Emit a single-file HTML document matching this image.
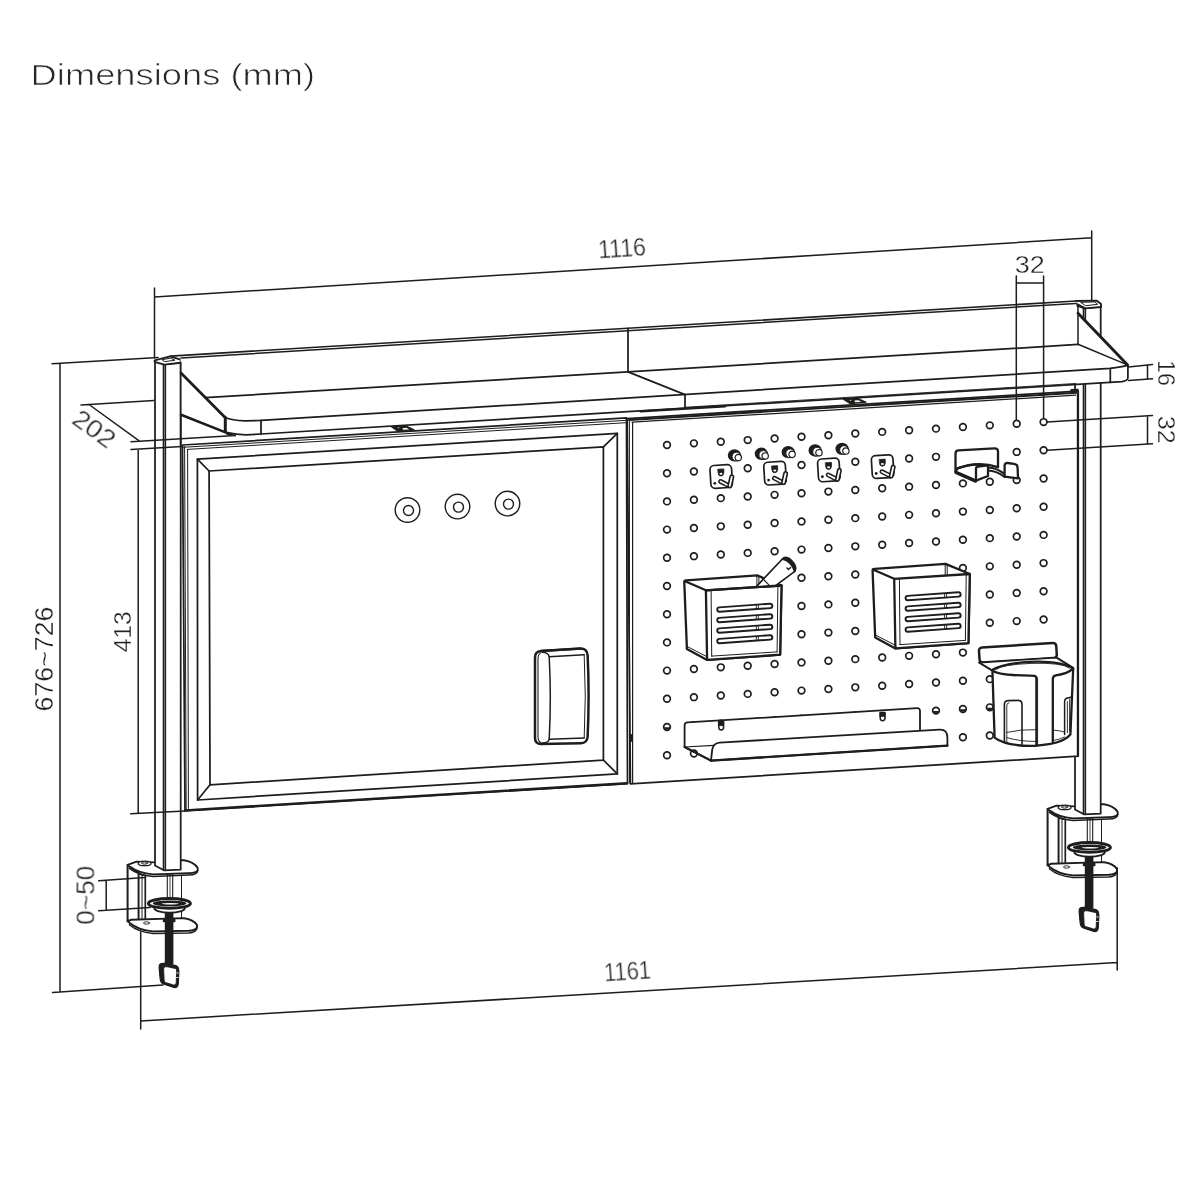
<!DOCTYPE html>
<html lang="en">
<head>
<meta charset="utf-8">
<title>Dimensions (mm)</title>
<style>
html,body{margin:0;padding:0;background:#fff;}
body{width:1200px;height:1200px;overflow:hidden;font-family:"Liberation Sans",sans-serif;}
svg{display:block;position:absolute;left:0;top:0;}
svg text{font-family:"Liberation Sans",sans-serif;}
</style>
</head>
<body>
<svg width="1200" height="1200" viewBox="0 0 1200 1200" stroke-linecap="round" stroke-linejoin="round">
<rect x="0" y="0" width="1200" height="1200" fill="#fff"/>
<!-- title -->
<!-- left post -->
<defs><g id="clamp">
<polygon points="127.60,865.00 138.70,873.00 138.70,923.00 127.60,921.20" fill="#fff" stroke="#1d1d1b" stroke-width="2.0" />
<polygon points="138.70,874.00 145.30,875.50 145.30,924.00 138.70,923.00" fill="#fff" stroke="#1d1d1b" stroke-width="1.7" />
<line x1="142.00" y1="875.00" x2="142.00" y2="923.50" stroke="#1d1d1b" stroke-width="1.0" />
<rect x="167.3" y="874" width="5.4" height="26" fill="#fff" stroke="#1d1d1b" stroke-width="1.1"/>
<line x1="170.00" y1="875.00" x2="170.00" y2="899.00" stroke="#1d1d1b" stroke-width="0.8" />
<line x1="181.50" y1="875.00" x2="181.50" y2="919.50" stroke="#1d1d1b" stroke-width="1.0" />
<path d="M127.6 921 L131 919.8 L175 918.4 L184 918.2 Q193.4 919.4 197 925 L197 927 Q196.4 930.4 188.7 930.8 L153 931.4 Q138.5 930.2 129.8 923 Z" fill="#fff" stroke="#1d1d1b" stroke-width="1.9" />
<path d="M129.4 924.8 Q138 932.2 153 933.4 L188.7 932.9 Q196.4 932.5 197 927.8" fill="none" stroke="#1d1d1b" stroke-width="1.5" />
<ellipse cx="146.5" cy="923" rx="3" ry="1.2" fill="#fff" stroke="#1d1d1b" stroke-width="0.9"/>
<rect x="164.8" y="910" width="8.6" height="54" fill="#1d1d1b" stroke="none"/>
<rect x="162.8" y="919" width="12.6" height="3.2" fill="#1d1d1b" stroke="none"/>
<ellipse cx="169.6" cy="908.2" rx="15.2" ry="4.4" fill="#fff" stroke="#1d1d1b" stroke-width="1.9"/>
<ellipse cx="169.4" cy="903.4" rx="21.0" ry="4.9" fill="#fff" stroke="#1d1d1b" stroke-width="3.0"/>
<ellipse cx="169.6" cy="903.4" rx="16.8" ry="2.9" fill="#1d1d1b" stroke="none"/>
<ellipse cx="170.2" cy="903.8" rx="8.6" ry="0.8" fill="#fff" stroke="none"/>
<path d="M127.6 864.8 L136.5 861.7 L155 862.4 L181 860.3 L184 860.2 Q194 861.8 197.7 868 L197.7 870.2 Q197 872.8 188.7 873.1 L153 874.4 Q138.5 873.2 129.8 866.6 Z" fill="#fff" stroke="#1d1d1b" stroke-width="1.9" />
<path d="M129.4 868.4 Q138 875.2 153 876.4 L188.7 875.1 Q197 874.8 197.7 870.8" fill="none" stroke="#1d1d1b" stroke-width="1.5" />
<ellipse cx="144.6" cy="863.4" rx="6.4" ry="2.3" fill="#fff" stroke="#1d1d1b" stroke-width="1.3"/>
<ellipse cx="144.6" cy="863.0" rx="3.2" ry="1.1" fill="#fff" stroke="#1d1d1b" stroke-width="1.0"/>
<path d="M161.2 963.6 Q159 964 159.2 968 L160.2 979 Q160.6 983 164 984.2 L174 987.4 Q177.4 988 178.2 984 L178.8 972 Q179 966.6 175.6 965.6 L166 963.2 Z" fill="#1d1d1b" stroke="#1d1d1b" stroke-width="1.3" />
<path d="M166.4 966.6 L175.2 968.4 Q176.8 969 176.7 971.4 L176.2 983 Q175.9 985.6 173.6 985 L165.6 982.6 Q164.2 982 164.1 980 L163.6 969 Q163.6 966.2 166.4 966.6 Z" fill="#fff" stroke="#1d1d1b" stroke-width="0.9" />
<line x1="176.80" y1="973.00" x2="178.40" y2="973.00" stroke="#fff" stroke-width="0.8" />
<line x1="176.60" y1="977.50" x2="178.30" y2="977.50" stroke="#fff" stroke-width="0.8" />
</g></defs>
<use href="#clamp"/>
<use href="#clamp" transform="translate(920 -56)"/>
<g transform="translate(0 0)">
<polygon points="155.00,361.00 164.00,364.30 180.70,362.60 180.70,869.60 164.30,870.40 155.00,865.40" fill="#fff" stroke="#1d1d1b" stroke-width="1.75" />
<line x1="165.30" y1="364.20" x2="165.30" y2="870.20" stroke="#1d1d1b" stroke-width="1.7" />
<line x1="163.40" y1="363.60" x2="163.40" y2="869.80" stroke="#1d1d1b" stroke-width="1.4" />
<polygon points="154.70,360.40 170.00,356.40 180.70,359.60 180.70,362.80 164.20,364.60 154.70,361.80" fill="#fff" stroke="#1d1d1b" stroke-width="1.9" />
<polygon points="162.40,359.60 170.60,358.20 175.00,360.20 165.20,361.60" fill="#fff" stroke="#1d1d1b" stroke-width="1.0" />
</g>
<!-- right post -->
<g transform="translate(920 -56)">
<polygon points="155.00,361.00 164.00,364.30 180.70,362.60 180.70,869.60 164.30,870.40 155.00,865.40" fill="#fff" stroke="#1d1d1b" stroke-width="1.75" />
<line x1="165.30" y1="364.20" x2="165.30" y2="870.20" stroke="#1d1d1b" stroke-width="1.7" />
<line x1="163.40" y1="363.60" x2="163.40" y2="869.80" stroke="#1d1d1b" stroke-width="1.4" />
<polygon points="155.60,357.00 176.50,356.60 181.00,360.00 181.00,363.00 165.30,364.40 155.60,359.40" fill="#fff" stroke="#1d1d1b" stroke-width="1.9" />
<polygon points="161.00,358.30 175.00,357.90 177.60,360.30 166.00,361.70" fill="#fff" stroke="#1d1d1b" stroke-width="1.0" />
</g>
<!-- whiteboard -->
<polygon points="182.50,445.00 626.50,417.97 627.50,783.60 185.00,811.00" fill="#fff" stroke="#1d1d1b" stroke-width="1.75" />
<line x1="183.30" y1="447.30" x2="626.50" y2="420.32" stroke="#1d1d1b" stroke-width="1.0" />
<line x1="187.30" y1="449.40" x2="626.50" y2="422.67" stroke="#1d1d1b" stroke-width="1.0" />
<line x1="184.60" y1="446.50" x2="186.20" y2="809.50" stroke="#1d1d1b" stroke-width="1.0" />
<line x1="187.60" y1="449.40" x2="188.40" y2="808.50" stroke="#1d1d1b" stroke-width="1.0" />
<line x1="185.20" y1="810.40" x2="627.20" y2="783.20" stroke="#1d1d1b" stroke-width="2.4" />
<polygon points="197.40,459.10 617.30,433.40 617.30,773.90 197.60,800.00" fill="none" stroke="#1d1d1b" stroke-width="1.75" />
<polygon points="209.10,471.00 603.40,446.90 603.40,760.10 210.00,784.80" fill="none" stroke="#1d1d1b" stroke-width="1.75" />
<line x1="197.40" y1="459.10" x2="209.10" y2="471.00" stroke="#1d1d1b" stroke-width="1.75" />
<line x1="617.30" y1="433.40" x2="603.40" y2="446.90" stroke="#1d1d1b" stroke-width="1.75" />
<line x1="617.30" y1="773.90" x2="603.40" y2="760.10" stroke="#1d1d1b" stroke-width="1.75" />
<line x1="197.60" y1="800.00" x2="210.00" y2="784.80" stroke="#1d1d1b" stroke-width="1.75" />
<path d="M391.4 426.8 L405 425.6 L414 429.8 L398 431.2 Z" fill="#1d1d1b" stroke="#1d1d1b" stroke-width="1.2" />
<path d="M397.4 427.6 L399.6 427.4 L398.6 428.6 Z M402.4 428.2 L406.4 427.8 L409.4 429.4 L403 429.8 Z" fill="#fff" stroke="none" stroke-width="0" />
<circle cx="407.5" cy="510" r="12.3" fill="#fff" stroke="#1d1d1b" stroke-width="1.4"/>
<circle cx="408.5" cy="510.5" r="5" fill="#fff" stroke="#1d1d1b" stroke-width="1.4"/>
<circle cx="457.5" cy="506.6" r="12.3" fill="#fff" stroke="#1d1d1b" stroke-width="1.4"/>
<circle cx="458.5" cy="507.1" r="5" fill="#fff" stroke="#1d1d1b" stroke-width="1.4"/>
<circle cx="507.5" cy="503.6" r="12.3" fill="#fff" stroke="#1d1d1b" stroke-width="1.4"/>
<circle cx="508.5" cy="504.1" r="5" fill="#fff" stroke="#1d1d1b" stroke-width="1.4"/>
<path d="M535 657.4 Q535 651.4 541 651 L580 648.6 Q587 648.4 587.6 655 Q589.6 696 587.6 737 Q587 743 581 743.2 L541 744 Q535 743.8 535 738 Z" fill="#fff" stroke="#1d1d1b" stroke-width="2.5" />
<path d="M541 652.6 Q538 654.4 538 658.6 V737 Q538 741.2 541 742.6" fill="none" stroke="#1d1d1b" stroke-width="1.1" />
<path d="M542.4 652.2 Q548.4 652.4 549.2 656.8 Q551.4 698 549.2 739.2 Q548.4 743 542.6 743" fill="none" stroke="#1d1d1b" stroke-width="1.5" />
<path d="M549.2 656.8 L584.2 654.8 M549.2 739.2 L584.2 738" fill="none" stroke="#1d1d1b" stroke-width="1.5" />
<path d="M584.2 654.8 Q586.4 696 584.2 738" fill="none" stroke="#1d1d1b" stroke-width="1.0" />
<path d="M542 650.9 L581 648.7" fill="none" stroke="#1d1d1b" stroke-width="2.2" />
<!-- pegboard -->
<polygon points="627.20,418.60 1078.20,391.15 1078.20,756.20 630.40,783.80" fill="#fff" stroke="#1d1d1b" stroke-width="1.8" />
<line x1="629.00" y1="420.00" x2="1076.40" y2="392.77" stroke="#1d1d1b" stroke-width="1.9" />
<line x1="632.00" y1="422.20" x2="1075.60" y2="395.20" stroke="#1d1d1b" stroke-width="1.3" />
<line x1="629.40" y1="421.00" x2="629.60" y2="783.00" stroke="#1d1d1b" stroke-width="1.0" />
<line x1="632.60" y1="422.50" x2="632.60" y2="783.00" stroke="#1d1d1b" stroke-width="1.2" />
<line x1="1077.40" y1="393.50" x2="1077.40" y2="755.50" stroke="#1d1d1b" stroke-width="1.2" />
<line x1="1071.50" y1="390.40" x2="1077.50" y2="390.00" stroke="#1d1d1b" stroke-width="2.6" />
<line x1="631.00" y1="735.00" x2="631.00" y2="741.00" stroke="#1d1d1b" stroke-width="2.2" />
<path d="M843.4 399.2 L857 398 L866 402.2 L850 403.6 Z" fill="#1d1d1b" stroke="#1d1d1b" stroke-width="1.2" />
<path d="M849.4 400 L851.6 399.8 L850.6 401 Z M854.4 400.6 L858.4 400.2 L861.4 401.8 L855 402.2 Z" fill="#fff" stroke="none" stroke-width="0" />
<g fill="#fff" stroke="#1d1d1b" stroke-width="1.7">
<circle cx="667.00" cy="445.00" r="3.35"/>
<circle cx="667.00" cy="473.20" r="3.35"/>
<circle cx="667.00" cy="501.40" r="3.35"/>
<circle cx="667.00" cy="529.60" r="3.35"/>
<circle cx="667.00" cy="557.80" r="3.35"/>
<circle cx="667.00" cy="586.00" r="3.35"/>
<circle cx="667.00" cy="614.20" r="3.35"/>
<circle cx="667.00" cy="642.40" r="3.35"/>
<circle cx="667.00" cy="670.60" r="3.35"/>
<circle cx="667.00" cy="698.80" r="3.35"/>
<circle cx="667.00" cy="727.00" r="3.35"/>
<path d="M663.80 727.30 A3.3 3.3 0 0 0 670.20 727.30 Z" fill="#1d1d1b" stroke="none"/>
<circle cx="667.00" cy="755.20" r="3.35"/>
<circle cx="693.90" cy="443.36" r="3.35"/>
<circle cx="693.90" cy="471.56" r="3.35"/>
<circle cx="693.90" cy="499.76" r="3.35"/>
<circle cx="693.90" cy="527.96" r="3.35"/>
<circle cx="693.90" cy="556.16" r="3.35"/>
<circle cx="693.90" cy="584.36" r="3.35"/>
<circle cx="693.90" cy="612.56" r="3.35"/>
<circle cx="693.90" cy="640.76" r="3.35"/>
<circle cx="693.90" cy="668.96" r="3.35"/>
<circle cx="693.90" cy="697.16" r="3.35"/>
<circle cx="693.90" cy="725.36" r="3.35"/>
<path d="M690.70 725.66 A3.3 3.3 0 0 0 697.10 725.66 Z" fill="#1d1d1b" stroke="none"/>
<circle cx="693.90" cy="753.56" r="3.35"/>
<circle cx="720.80" cy="441.73" r="3.35"/>
<circle cx="720.80" cy="469.93" r="3.35"/>
<circle cx="720.80" cy="498.13" r="3.35"/>
<circle cx="720.80" cy="526.33" r="3.35"/>
<circle cx="720.80" cy="554.53" r="3.35"/>
<circle cx="720.80" cy="582.73" r="3.35"/>
<circle cx="720.80" cy="610.93" r="3.35"/>
<circle cx="720.80" cy="639.13" r="3.35"/>
<circle cx="720.80" cy="667.33" r="3.35"/>
<circle cx="720.80" cy="695.53" r="3.35"/>
<circle cx="720.80" cy="723.73" r="3.35"/>
<path d="M717.60 724.03 A3.3 3.3 0 0 0 724.00 724.03 Z" fill="#1d1d1b" stroke="none"/>
<circle cx="720.80" cy="751.93" r="3.35"/>
<circle cx="747.70" cy="440.09" r="3.35"/>
<circle cx="747.70" cy="468.29" r="3.35"/>
<circle cx="747.70" cy="496.49" r="3.35"/>
<circle cx="747.70" cy="524.69" r="3.35"/>
<circle cx="747.70" cy="552.89" r="3.35"/>
<circle cx="747.70" cy="581.09" r="3.35"/>
<circle cx="747.70" cy="609.29" r="3.35"/>
<circle cx="747.70" cy="637.49" r="3.35"/>
<circle cx="747.70" cy="665.69" r="3.35"/>
<circle cx="747.70" cy="693.89" r="3.35"/>
<circle cx="747.70" cy="722.09" r="3.35"/>
<path d="M744.50 722.39 A3.3 3.3 0 0 0 750.90 722.39 Z" fill="#1d1d1b" stroke="none"/>
<circle cx="747.70" cy="750.29" r="3.35"/>
<circle cx="774.60" cy="438.45" r="3.35"/>
<circle cx="774.60" cy="466.65" r="3.35"/>
<circle cx="774.60" cy="494.85" r="3.35"/>
<circle cx="774.60" cy="523.05" r="3.35"/>
<circle cx="774.60" cy="551.25" r="3.35"/>
<circle cx="774.60" cy="579.45" r="3.35"/>
<circle cx="774.60" cy="607.65" r="3.35"/>
<circle cx="774.60" cy="635.85" r="3.35"/>
<circle cx="774.60" cy="664.05" r="3.35"/>
<circle cx="774.60" cy="692.25" r="3.35"/>
<circle cx="774.60" cy="720.45" r="3.35"/>
<path d="M771.40 720.75 A3.3 3.3 0 0 0 777.80 720.75 Z" fill="#1d1d1b" stroke="none"/>
<circle cx="774.60" cy="748.65" r="3.35"/>
<circle cx="801.50" cy="436.81" r="3.35"/>
<circle cx="801.50" cy="465.01" r="3.35"/>
<circle cx="801.50" cy="493.21" r="3.35"/>
<circle cx="801.50" cy="521.41" r="3.35"/>
<circle cx="801.50" cy="549.61" r="3.35"/>
<circle cx="801.50" cy="577.81" r="3.35"/>
<circle cx="801.50" cy="606.01" r="3.35"/>
<circle cx="801.50" cy="634.21" r="3.35"/>
<circle cx="801.50" cy="662.41" r="3.35"/>
<circle cx="801.50" cy="690.61" r="3.35"/>
<circle cx="801.50" cy="718.81" r="3.35"/>
<path d="M798.30 719.11 A3.3 3.3 0 0 0 804.70 719.11 Z" fill="#1d1d1b" stroke="none"/>
<circle cx="801.50" cy="747.01" r="3.35"/>
<circle cx="828.40" cy="435.18" r="3.35"/>
<circle cx="828.40" cy="463.38" r="3.35"/>
<circle cx="828.40" cy="491.58" r="3.35"/>
<circle cx="828.40" cy="519.78" r="3.35"/>
<circle cx="828.40" cy="547.98" r="3.35"/>
<circle cx="828.40" cy="576.18" r="3.35"/>
<circle cx="828.40" cy="604.38" r="3.35"/>
<circle cx="828.40" cy="632.58" r="3.35"/>
<circle cx="828.40" cy="660.78" r="3.35"/>
<circle cx="828.40" cy="688.98" r="3.35"/>
<circle cx="828.40" cy="717.18" r="3.35"/>
<path d="M825.20 717.48 A3.3 3.3 0 0 0 831.60 717.48 Z" fill="#1d1d1b" stroke="none"/>
<circle cx="828.40" cy="745.38" r="3.35"/>
<circle cx="855.30" cy="433.54" r="3.35"/>
<circle cx="855.30" cy="461.74" r="3.35"/>
<circle cx="855.30" cy="489.94" r="3.35"/>
<circle cx="855.30" cy="518.14" r="3.35"/>
<circle cx="855.30" cy="546.34" r="3.35"/>
<circle cx="855.30" cy="574.54" r="3.35"/>
<circle cx="855.30" cy="602.74" r="3.35"/>
<circle cx="855.30" cy="630.94" r="3.35"/>
<circle cx="855.30" cy="659.14" r="3.35"/>
<circle cx="855.30" cy="687.34" r="3.35"/>
<circle cx="855.30" cy="715.54" r="3.35"/>
<path d="M852.10 715.84 A3.3 3.3 0 0 0 858.50 715.84 Z" fill="#1d1d1b" stroke="none"/>
<circle cx="855.30" cy="743.74" r="3.35"/>
<circle cx="882.20" cy="431.90" r="3.35"/>
<circle cx="882.20" cy="460.10" r="3.35"/>
<circle cx="882.20" cy="488.30" r="3.35"/>
<circle cx="882.20" cy="516.50" r="3.35"/>
<circle cx="882.20" cy="544.70" r="3.35"/>
<circle cx="882.20" cy="572.90" r="3.35"/>
<circle cx="882.20" cy="601.10" r="3.35"/>
<circle cx="882.20" cy="629.30" r="3.35"/>
<circle cx="882.20" cy="657.50" r="3.35"/>
<circle cx="882.20" cy="685.70" r="3.35"/>
<circle cx="882.20" cy="713.90" r="3.35"/>
<path d="M879.00 714.20 A3.3 3.3 0 0 0 885.40 714.20 Z" fill="#1d1d1b" stroke="none"/>
<circle cx="882.20" cy="742.10" r="3.35"/>
<circle cx="909.10" cy="430.26" r="3.35"/>
<circle cx="909.10" cy="458.46" r="3.35"/>
<circle cx="909.10" cy="486.66" r="3.35"/>
<circle cx="909.10" cy="514.86" r="3.35"/>
<circle cx="909.10" cy="543.06" r="3.35"/>
<circle cx="909.10" cy="571.26" r="3.35"/>
<circle cx="909.10" cy="599.46" r="3.35"/>
<circle cx="909.10" cy="627.66" r="3.35"/>
<circle cx="909.10" cy="655.86" r="3.35"/>
<circle cx="909.10" cy="684.06" r="3.35"/>
<circle cx="909.10" cy="712.26" r="3.35"/>
<path d="M905.90 712.56 A3.3 3.3 0 0 0 912.30 712.56 Z" fill="#1d1d1b" stroke="none"/>
<circle cx="909.10" cy="740.46" r="3.35"/>
<circle cx="936.00" cy="428.63" r="3.35"/>
<circle cx="936.00" cy="456.83" r="3.35"/>
<circle cx="936.00" cy="485.03" r="3.35"/>
<circle cx="936.00" cy="513.23" r="3.35"/>
<circle cx="936.00" cy="541.43" r="3.35"/>
<circle cx="936.00" cy="569.63" r="3.35"/>
<circle cx="936.00" cy="597.83" r="3.35"/>
<circle cx="936.00" cy="626.03" r="3.35"/>
<circle cx="936.00" cy="654.23" r="3.35"/>
<circle cx="936.00" cy="682.43" r="3.35"/>
<circle cx="936.00" cy="710.63" r="3.35"/>
<path d="M932.80 710.93 A3.3 3.3 0 0 0 939.20 710.93 Z" fill="#1d1d1b" stroke="none"/>
<circle cx="936.00" cy="738.83" r="3.35"/>
<circle cx="962.90" cy="426.99" r="3.35"/>
<circle cx="962.90" cy="455.19" r="3.35"/>
<circle cx="962.90" cy="483.39" r="3.35"/>
<circle cx="962.90" cy="511.59" r="3.35"/>
<circle cx="962.90" cy="539.79" r="3.35"/>
<circle cx="962.90" cy="567.99" r="3.35"/>
<circle cx="962.90" cy="596.19" r="3.35"/>
<circle cx="962.90" cy="624.39" r="3.35"/>
<circle cx="962.90" cy="652.59" r="3.35"/>
<circle cx="962.90" cy="680.79" r="3.35"/>
<circle cx="962.90" cy="708.99" r="3.35"/>
<path d="M959.70 709.29 A3.3 3.3 0 0 0 966.10 709.29 Z" fill="#1d1d1b" stroke="none"/>
<circle cx="962.90" cy="737.19" r="3.35"/>
<circle cx="989.80" cy="425.35" r="3.35"/>
<circle cx="989.80" cy="453.55" r="3.35"/>
<circle cx="989.80" cy="481.75" r="3.35"/>
<circle cx="989.80" cy="509.95" r="3.35"/>
<circle cx="989.80" cy="538.15" r="3.35"/>
<circle cx="989.80" cy="566.35" r="3.35"/>
<circle cx="989.80" cy="594.55" r="3.35"/>
<circle cx="989.80" cy="622.75" r="3.35"/>
<circle cx="989.80" cy="650.95" r="3.35"/>
<circle cx="989.80" cy="679.15" r="3.35"/>
<circle cx="989.80" cy="707.35" r="3.35"/>
<path d="M986.60 707.65 A3.3 3.3 0 0 0 993.00 707.65 Z" fill="#1d1d1b" stroke="none"/>
<circle cx="989.80" cy="735.55" r="3.35"/>
<circle cx="1016.70" cy="423.71" r="3.35"/>
<circle cx="1016.70" cy="451.91" r="3.35"/>
<circle cx="1016.70" cy="480.11" r="3.35"/>
<circle cx="1016.70" cy="508.31" r="3.35"/>
<circle cx="1016.70" cy="536.51" r="3.35"/>
<circle cx="1016.70" cy="564.71" r="3.35"/>
<circle cx="1016.70" cy="592.91" r="3.35"/>
<circle cx="1016.70" cy="621.11" r="3.35"/>
<circle cx="1016.70" cy="649.31" r="3.35"/>
<circle cx="1016.70" cy="677.51" r="3.35"/>
<circle cx="1016.70" cy="705.71" r="3.35"/>
<path d="M1013.50 706.01 A3.3 3.3 0 0 0 1019.90 706.01 Z" fill="#1d1d1b" stroke="none"/>
<circle cx="1016.70" cy="733.91" r="3.35"/>
<circle cx="1043.60" cy="422.08" r="3.35"/>
<circle cx="1043.60" cy="450.28" r="3.35"/>
<circle cx="1043.60" cy="478.48" r="3.35"/>
<circle cx="1043.60" cy="506.68" r="3.35"/>
<circle cx="1043.60" cy="534.88" r="3.35"/>
<circle cx="1043.60" cy="563.08" r="3.35"/>
<circle cx="1043.60" cy="591.28" r="3.35"/>
<circle cx="1043.60" cy="619.48" r="3.35"/>
<circle cx="1043.60" cy="647.68" r="3.35"/>
<circle cx="1043.60" cy="675.88" r="3.35"/>
<circle cx="1043.60" cy="704.08" r="3.35"/>
<path d="M1040.40 704.38 A3.3 3.3 0 0 0 1046.80 704.38 Z" fill="#1d1d1b" stroke="none"/>
<circle cx="1043.60" cy="732.28" r="3.35"/>
</g>
<!-- pins -->
<g transform="translate(735.05 455.81)">
<ellipse cx="-0.6" cy="-0.4" rx="6.6" ry="6.2" fill="#1d1d1b"/>
<circle cx="1.4" cy="0.8" r="4.4" fill="#fff"/>
<circle cx="1.4" cy="0.8" r="4.4" fill="none" stroke="#1d1d1b" stroke-width="1.0"/>
<circle cx="3.2" cy="1.8" r="3.2" fill="#fff" stroke="#1d1d1b" stroke-width="1.2"/>
</g>
<g transform="translate(761.95 454.17)">
<ellipse cx="-0.6" cy="-0.4" rx="6.6" ry="6.2" fill="#1d1d1b"/>
<circle cx="1.4" cy="0.8" r="4.4" fill="#fff"/>
<circle cx="1.4" cy="0.8" r="4.4" fill="none" stroke="#1d1d1b" stroke-width="1.0"/>
<circle cx="3.2" cy="1.8" r="3.2" fill="#fff" stroke="#1d1d1b" stroke-width="1.2"/>
</g>
<g transform="translate(788.85 452.53)">
<ellipse cx="-0.6" cy="-0.4" rx="6.6" ry="6.2" fill="#1d1d1b"/>
<circle cx="1.4" cy="0.8" r="4.4" fill="#fff"/>
<circle cx="1.4" cy="0.8" r="4.4" fill="none" stroke="#1d1d1b" stroke-width="1.0"/>
<circle cx="3.2" cy="1.8" r="3.2" fill="#fff" stroke="#1d1d1b" stroke-width="1.2"/>
</g>
<g transform="translate(815.75 450.89)">
<ellipse cx="-0.6" cy="-0.4" rx="6.6" ry="6.2" fill="#1d1d1b"/>
<circle cx="1.4" cy="0.8" r="4.4" fill="#fff"/>
<circle cx="1.4" cy="0.8" r="4.4" fill="none" stroke="#1d1d1b" stroke-width="1.0"/>
<circle cx="3.2" cy="1.8" r="3.2" fill="#fff" stroke="#1d1d1b" stroke-width="1.2"/>
</g>
<g transform="translate(842.65 449.26)">
<ellipse cx="-0.6" cy="-0.4" rx="6.6" ry="6.2" fill="#1d1d1b"/>
<circle cx="1.4" cy="0.8" r="4.4" fill="#fff"/>
<circle cx="1.4" cy="0.8" r="4.4" fill="none" stroke="#1d1d1b" stroke-width="1.0"/>
<circle cx="3.2" cy="1.8" r="3.2" fill="#fff" stroke="#1d1d1b" stroke-width="1.2"/>
</g>
<!-- hooks -->
<defs><g id="hook">
<rect x="-10.8" y="-11.2" width="21.6" height="22.8" rx="4.2" ry="4.2" fill="#fff" stroke="#1d1d1b" stroke-width="1.7" transform="rotate(-3.5)"/>
<path d="M-3.2 -7 L2.6 -7.4 L2.7 -3.6 Q2.4 -0.4 -0.2 -0.2 Q-3 -0.2 -3.1 -3.4 Z" fill="#1d1d1b" stroke="#1d1d1b" stroke-width="0.8" />
<ellipse cx="-0.2" cy="-2.6" rx="1.5" ry="1" fill="#fff" stroke="none"/>
<circle cx="-6.4" cy="7" r="1.4" fill="#1d1d1b" stroke="none"/>
<line x1="-0.60" y1="5.20" x2="7.60" y2="9.40" stroke="#1d1d1b" stroke-width="4.8" />
<line x1="-0.60" y1="5.20" x2="7.60" y2="9.40" stroke="#fff" stroke-width="1.8" />
<line x1="8.60" y1="9.60" x2="10.60" y2="0.60" stroke="#1d1d1b" stroke-width="5.0" />
<line x1="8.60" y1="9.60" x2="10.60" y2="0.60" stroke="#fff" stroke-width="1.8" />
</g></defs>
<use href="#hook" transform="translate(721.20 476.30)"/>
<use href="#hook" transform="translate(775.00 473.03)"/>
<use href="#hook" transform="translate(828.80 469.75)"/>
<use href="#hook" transform="translate(882.60 466.48)"/>
<!-- cable hook -->
<path d="M955.5 471.6 V453.5 Q955.5 450.6 958.5 450.4 L994.5 448.4 Q998 448.3 998 451.5 V467.2" fill="#fff" stroke="#1d1d1b" stroke-width="2.3" />
<path d="M955.5 471.6 L976 480.6 L988 476 L988 466.6 Q976 462 957.5 468.4 Z" fill="#fff" stroke="#1d1d1b" stroke-width="2.3" />
<path d="M957.4 468.4 Q978 460.4 998 467.2" fill="none" stroke="#1d1d1b" stroke-width="2.3" />
<path d="M956 472.6 L975.6 481.2" fill="none" stroke="#1d1d1b" stroke-width="3.2" />
<path d="M976 480.6 V468.4 Q976 466.8 978 466.6 L988 465.4" fill="#fff" stroke="#1d1d1b" stroke-width="2.3" />
<path d="M988 467.4 Q997 467.6 1005 474.4 M988 470.6 Q996 470.6 1004.6 477" fill="none" stroke="#1d1d1b" stroke-width="2.0" />
<path d="M1004.6 476.6 V465.6 Q1004.6 462.8 1007.6 463 L1014 463.8 Q1017.4 464.2 1017.6 467.4 L1018 478.4 Z" fill="#fff" stroke="#1d1d1b" stroke-width="2.3" />
<!-- bins -->
<defs><g id="bin">
<path d="M872.6 571 Q872.4 569 874.6 568.8 L945.5 563.9 L969.8 574 L968.4 643.2 L895.4 648.4 L875.2 637.4 Z" fill="#fff" stroke="#1d1d1b" stroke-width="2.3" />
<line x1="945.20" y1="564.40" x2="945.20" y2="575.00" stroke="#1d1d1b" stroke-width="1.0" />
<line x1="947.20" y1="565.00" x2="947.20" y2="575.00" stroke="#1d1d1b" stroke-width="1.0" />
<path d="M894.2 578.8 L969.8 574 L968.4 643.2 L895.4 648.4 Z" fill="#fff" stroke="#1d1d1b" stroke-width="2.3" />
<path d="M872.8 569.4 L894.2 578.8" fill="none" stroke="#1d1d1b" stroke-width="2.2" />
<line x1="899.40" y1="579.40" x2="900.00" y2="644.60" stroke="#1d1d1b" stroke-width="1.0" />
<line x1="900.00" y1="644.60" x2="965.40" y2="640.40" stroke="#1d1d1b" stroke-width="1.0" />
<line x1="966.20" y1="575.40" x2="965.40" y2="640.40" stroke="#1d1d1b" stroke-width="1.0" />
<line x1="875.40" y1="635.00" x2="896.00" y2="645.60" stroke="#1d1d1b" stroke-width="1.0" />
<line x1="907.80" y1="598.10" x2="958.40" y2="594.40" stroke="#1d1d1b" stroke-width="6.4" />
<line x1="907.80" y1="598.10" x2="958.40" y2="594.40" stroke="#fff" stroke-width="2.5" />
<line x1="944.60" y1="593.60" x2="944.60" y2="597.40" stroke="#1d1d1b" stroke-width="0.9" />
<line x1="946.60" y1="593.40" x2="946.60" y2="597.20" stroke="#1d1d1b" stroke-width="0.9" />
<line x1="907.80" y1="608.60" x2="958.40" y2="604.90" stroke="#1d1d1b" stroke-width="6.4" />
<line x1="907.80" y1="608.60" x2="958.40" y2="604.90" stroke="#fff" stroke-width="2.5" />
<line x1="944.60" y1="604.10" x2="944.60" y2="607.90" stroke="#1d1d1b" stroke-width="0.9" />
<line x1="946.60" y1="603.90" x2="946.60" y2="607.70" stroke="#1d1d1b" stroke-width="0.9" />
<line x1="907.80" y1="619.10" x2="958.40" y2="615.40" stroke="#1d1d1b" stroke-width="6.4" />
<line x1="907.80" y1="619.10" x2="958.40" y2="615.40" stroke="#fff" stroke-width="2.5" />
<line x1="944.60" y1="614.60" x2="944.60" y2="618.40" stroke="#1d1d1b" stroke-width="0.9" />
<line x1="946.60" y1="614.40" x2="946.60" y2="618.20" stroke="#1d1d1b" stroke-width="0.9" />
<line x1="907.80" y1="629.60" x2="958.40" y2="625.90" stroke="#1d1d1b" stroke-width="6.4" />
<line x1="907.80" y1="629.60" x2="958.40" y2="625.90" stroke="#fff" stroke-width="2.5" />
<line x1="944.60" y1="625.10" x2="944.60" y2="628.90" stroke="#1d1d1b" stroke-width="0.9" />
<line x1="946.60" y1="624.90" x2="946.60" y2="628.70" stroke="#1d1d1b" stroke-width="0.9" />
</g></defs>
<use href="#bin" transform="translate(-188.3 11.5)"/>
<use href="#bin"/>
<!-- pen -->
<path d="M755.8 587.1 L782.4 559 Q786 555.6 791.6 560.8 Q797.4 566.6 794.8 571.4 L775.3 585.9 Z" fill="#fff" stroke="none" stroke-width="0" />
<path d="M755.8 587.1 L782.4 559 M794.8 571.4 L775.3 585.9" fill="none" stroke="#1d1d1b" stroke-width="1.7" />
<path d="M782.4 559 Q785.6 555.4 791.6 560.6 Q797.6 566.6 794.8 571.4 Q793 566 789.4 562.6 Q786 559.4 782.4 559 Z" fill="#1d1d1b" stroke="#1d1d1b" stroke-width="1.8" />
<path d="M787 568 L788.4 569.6 L790.6 567.6" fill="none" stroke="#1d1d1b" stroke-width="1.4" />
<line x1="760.70" y1="576.60" x2="769.60" y2="585.60" stroke="#1d1d1b" stroke-width="1.2" />
<line x1="705.90" y1="590.30" x2="781.50" y2="585.50" stroke="#1d1d1b" stroke-width="2.3" />
<!-- tray -->
<path d="M684.6 747 V725.5 Q684.6 722.6 687.6 722.4 L917 708.2 Q920 708 920 711 V731" fill="#fff" stroke="#1d1d1b" stroke-width="1.8" />
<path d="M684.6 747 L711 760.6 L947.4 745.6 L947.4 737.6 Q947.4 729.2 939.6 729.6 L719.6 742.6 Q713.4 743 712.2 749.6 L711 760.6" fill="#fff" stroke="#1d1d1b" stroke-width="1.8" />
<path d="M684.6 747 L714 745.4" fill="none" stroke="#1d1d1b" stroke-width="1.2" />
<path d="M711 760.6 L947.4 745.6" fill="none" stroke="#1d1d1b" stroke-width="2.4" />
<path d="M711 760.6 L684.6 747" fill="none" stroke="#1d1d1b" stroke-width="2.0" />
<path d="M718.8000000000001 721.8 V727.0 Q718.8000000000001 730.0 721.2 730.0 Q723.6 730.0 723.6 727.0 V721.8 Z" fill="#fff" stroke="#1d1d1b" stroke-width="1.5" />
<path d="M718.8000000000001 725.6 H723.6 V721.8 H718.8000000000001 Z" fill="#1d1d1b" stroke="#1d1d1b" stroke-width="0.8" />
<path d="M880.2 712.6 V717.8000000000001 Q880.2 720.8000000000001 882.6 720.8000000000001 Q885.0 720.8000000000001 885.0 717.8000000000001 V712.6 Z" fill="#fff" stroke="#1d1d1b" stroke-width="1.5" />
<path d="M880.2 716.4000000000001 H885.0 V712.6 H880.2 Z" fill="#1d1d1b" stroke="#1d1d1b" stroke-width="0.8" />
<!-- cup holder -->
<rect x="979" y="647.6" width="77.4" height="15.2" rx="3.2" ry="3.2" fill="#fff" stroke="#1d1d1b" stroke-width="2.5" transform="rotate(-3.6 979 651)"/>
<path d="M979.4 662.6 L993.4 671 M1056.4 657.8 L1073 668" fill="none" stroke="#1d1d1b" stroke-width="2.2" />
<path d="M979.4 662.6 L1056.4 657.8 L1073 668 L993.4 671 Z" fill="#fff" stroke="#1d1d1b" stroke-width="1.6" />
<path d="M992.4 670 L994.6 737.6 Q1006 746.4 1034.6 745.8 Q1062 744.4 1070.4 734.6 L1073.2 668.4 Q1060 660.6 1030 661.8 Q1002 663.4 992.4 670 Z" fill="#fff" stroke="#1d1d1b" stroke-width="2.3" />
<path d="M992.4 670 Q996 675.4 1030 675.6 L1034.4 675.8 Q1036.4 676.2 1036.4 678.4 V745.4" fill="none" stroke="#1d1d1b" stroke-width="2.3" />
<path d="M1073.2 668.4 Q1068 673.6 1056 675.4 Q1052.8 676 1052.8 679 V742.6" fill="none" stroke="#1d1d1b" stroke-width="2.3" />
<path d="M1034.6 675.8 Q1037.6 676.4 1037.6 679 V745.2" fill="none" stroke="#1d1d1b" stroke-width="0.9" />
<path d="M996 669.4 Q1002 664.6 1031 663.4 Q1062 662.4 1069.6 668" fill="none" stroke="#1d1d1b" stroke-width="0.9" />
<path d="M1004.4 742.4 V704.4 Q1004.4 700.8 1008 700.6 L1018.4 700.4 Q1022 700.6 1022 704.4 V744.4" fill="none" stroke="#1d1d1b" stroke-width="1.6" />
<path d="M1006.8 742.8 V705.4 Q1006.8 703 1009 702.8" fill="none" stroke="#1d1d1b" stroke-width="0.9" />
<path d="M1064.6 734.6 V701.6 Q1064.6 698.6 1067.4 698 L1071 697.2" fill="none" stroke="#1d1d1b" stroke-width="1.5" />
<path d="M1067.4 732.6 V701.6 M1069.6 731 V699" fill="none" stroke="#1d1d1b" stroke-width="0.9" />
<path d="M1006.8 732.4 Q1020 729.2 1036.4 729.6 M1052.8 730 Q1060 730.6 1064.6 732" fill="none" stroke="#1d1d1b" stroke-width="0.9" />
<path d="M1006.8 737.6 Q1020 741.6 1036.4 741.4 M1052.8 740.6 Q1060 739.6 1064.6 737" fill="none" stroke="#1d1d1b" stroke-width="0.9" />
<!-- shelf -->
<path d="M180.5 355.5 L1076.2 300.98 L1078 344.48 L1127.9 365.40 L1127.9 378 Q1127.6 380.6 1122.0 381.59 L261.0 434.0 Q240 435.6 227.3 432.7 L180.6 414.7 Z" fill="#fff" stroke="none" stroke-width="0" />
<line x1="170.50" y1="356.10" x2="1076.20" y2="300.98" stroke="#1d1d1b" stroke-width="1.6" />
<line x1="181.00" y1="358.00" x2="1075.70" y2="303.48" stroke="#1d1d1b" stroke-width="1.5" />
<line x1="205.30" y1="397.60" x2="1078.00" y2="344.48" stroke="#1d1d1b" stroke-width="1.75" />
<path d="M224.7 417.3 Q232 420.6 244.7 420.9 L261.0 420.4 L1110 368.42 Q1122 366.99 1127.8 365.4" fill="none" stroke="#1d1d1b" stroke-width="1.75" />
<path d="M227.3 432.7 Q236 434.8 246 434.8 L261.0 434.0 L1122.0 381.59 Q1127.6 380.6 1127.9 378 V365.40" fill="none" stroke="#1d1d1b" stroke-width="1.75" />
<line x1="261.00" y1="420.40" x2="261.00" y2="434.00" stroke="#1d1d1b" stroke-width="1.75" />
<line x1="1110.30" y1="368.70" x2="1110.30" y2="382.30" stroke="#1d1d1b" stroke-width="1.75" />
<line x1="628.00" y1="328.26" x2="628.00" y2="371.87" stroke="#1d1d1b" stroke-width="1.75" />
<line x1="628.00" y1="371.87" x2="685.00" y2="394.59" stroke="#1d1d1b" stroke-width="1.75" />
<line x1="685.00" y1="394.59" x2="685.00" y2="408.19" stroke="#1d1d1b" stroke-width="1.75" />
<line x1="640.60" y1="411.40" x2="725.00" y2="406.26" stroke="#1d1d1b" stroke-width="2.3" />
<line x1="686.00" y1="407.20" x2="1076.00" y2="383.46" stroke="#1d1d1b" stroke-width="0.9" />
<!-- left bracket -->
<polygon points="180.50,372.50 224.70,417.30 225.30,431.30 227.30,432.70 180.60,414.70" fill="#fff" stroke="none" stroke-width="0" />
<line x1="181.00" y1="373.00" x2="224.90" y2="417.20" stroke="#1d1d1b" stroke-width="2.7" />
<line x1="225.30" y1="417.30" x2="225.30" y2="431.60" stroke="#1d1d1b" stroke-width="3.0" />
<line x1="181.00" y1="414.80" x2="228.00" y2="433.40" stroke="#1d1d1b" stroke-width="2.6" />
<line x1="227.00" y1="434.00" x2="235.30" y2="435.50" stroke="#1d1d1b" stroke-width="1.6" />
<line x1="180.70" y1="362.60" x2="180.70" y2="445.00" stroke="#1d1d1b" stroke-width="1.75" />
<!-- right bracket -->
<polygon points="1078.00,306.50 1078.00,344.40 1127.80,365.40 1078.00,313.30" fill="#fff" stroke="none" stroke-width="0" />
<line x1="1078.00" y1="306.00" x2="1078.00" y2="344.40" stroke="#1d1d1b" stroke-width="1.5" />
<line x1="1078.00" y1="313.30" x2="1127.40" y2="364.80" stroke="#1d1d1b" stroke-width="2.9" />
<line x1="1078.00" y1="344.20" x2="1127.40" y2="364.90" stroke="#1d1d1b" stroke-width="1.5" />
<!-- dimension lines -->
<g stroke="#1d1d1b" stroke-width="1.5" fill="none">
<path d="M154.5 288V358 M1091.7 231V300 M154.5 297L1091.7 237.8"/>
<path d="M140.7 932V1029 M1117.2 868V970 M140.7 1021L1117.2 962.5"/>
<path d="M52 363.8L158 357.6 M52.5 992.5L163 985 M60 363.5V992"/>
<path d="M131 449.6L182 446.6 M130.7 813.8L185 811 M138.2 449.2V813.4"/>
<path d="M81 405L154 400.5 M131 441.8L235.3 435.4 M89 404.5L139.2 440.8"/>
<path d="M98.7 880.7L145 877.6 M98.7 910.7L150 907.5 M106.2 880.2V910.2"/>
<path d="M1016.3 276V419.5 M1043.6 276V418 M1016.3 283H1043.6"/>
<path d="M1128.5 366.9L1152.5 364.6 M1128.5 380.6L1152.5 378.8 M1147.5 365V379.2"/>
<path d="M1047 422L1152.5 415.5 M1047 450.2L1152.5 443.7 M1147.5 415.8V444"/>
</g>
<!-- dimension text -->
<g opacity="0.999">
<text x="30.60" y="85.30" font-size="29.3" text-anchor="start" letter-spacing="0" fill="#262524" stroke="#fff" stroke-width="0.7" textLength="284.5" lengthAdjust="spacingAndGlyphs">Dimensions (mm)</text>
<text x="622.40" y="256.60" font-size="25" text-anchor="middle" letter-spacing="0" fill="#201f1e" transform="rotate(-3.6 622.40 256.60)" stroke="#fff" stroke-width="0.35" textLength="48" lengthAdjust="spacingAndGlyphs">1116</text>
<text x="628.00" y="980.20" font-size="25" text-anchor="middle" letter-spacing="0" fill="#201f1e" transform="rotate(-3.6 628.00 980.20)" stroke="#fff" stroke-width="0.35" textLength="47" lengthAdjust="spacingAndGlyphs">1161</text>
<text x="53.00" y="659.00" font-size="26.3" text-anchor="middle" letter-spacing="0" fill="#201f1e" transform="rotate(-90 53.00 659.00)" stroke="#fff" stroke-width="0.35" textLength="105" lengthAdjust="spacingAndGlyphs">676~726</text>
<text x="131.20" y="631.70" font-size="24.3" text-anchor="middle" letter-spacing="0" fill="#201f1e" transform="rotate(-90 131.20 631.70)" stroke="#fff" stroke-width="0.35" textLength="41" lengthAdjust="spacingAndGlyphs">413</text>
<text x="94.60" y="895.20" font-size="24.9" text-anchor="middle" letter-spacing="0" fill="#201f1e" transform="rotate(-90 94.60 895.20)" stroke="#fff" stroke-width="0.35" textLength="59" lengthAdjust="spacingAndGlyphs">0~50</text>
<text x="89.00" y="436.00" font-size="25" text-anchor="middle" letter-spacing="0" fill="#201f1e" transform="rotate(36 89.00 436.00)" stroke="#fff" stroke-width="0.35" textLength="46" lengthAdjust="spacingAndGlyphs">202</text>
<text x="1029.80" y="272.90" font-size="24" text-anchor="middle" letter-spacing="0" fill="#201f1e" stroke="#fff" stroke-width="0.35" textLength="30" lengthAdjust="spacingAndGlyphs">32</text>
<text x="1157.60" y="373.00" font-size="24.3" text-anchor="middle" letter-spacing="0" fill="#201f1e" transform="rotate(90 1157.60 373.00)" stroke="#fff" stroke-width="0.35" textLength="26" lengthAdjust="spacingAndGlyphs">16</text>
<text x="1157.60" y="429.80" font-size="24.3" text-anchor="middle" letter-spacing="0" fill="#201f1e" transform="rotate(90 1157.60 429.80)" stroke="#fff" stroke-width="0.35" textLength="28" lengthAdjust="spacingAndGlyphs">32</text>
</g>
</svg>
</body>
</html>
